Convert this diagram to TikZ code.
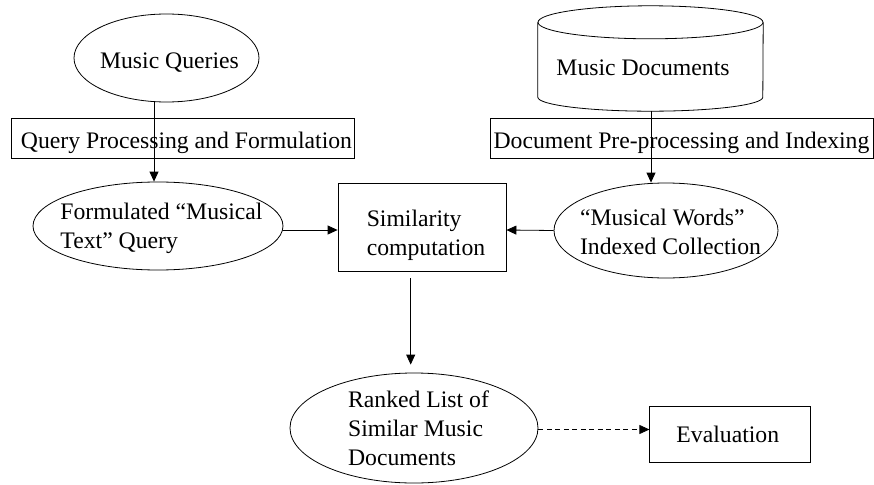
\documentclass[tikz,border=0pt]{standalone}
\usepackage{fontspec}
\setmainfont{Liberation Serif}
\usetikzlibrary{shapes.geometric,arrows.meta}
\newcommand\bigfnt{\fontsize{23.7pt}{29pt}\selectfont}
\begin{document}
\begin{tikzpicture}[x=1pt,y=-1pt,
  line/.style={line width=0.8pt},
  shapebase/.style={draw, line, inner sep=0pt},
  ell/.style={shapebase, ellipse},
  box/.style={shapebase, rectangle},
  txt/.style={font=\bigfnt, inner sep=0pt, align=left},
  arr/.style={line, -{Triangle[length=10pt,width=9pt]}},
  dasharr/.style={arr, dash pattern=on 5pt off 3.5pt}]
\useasboundingbox (0,0) rectangle (874,484);

% query side
\node[ell, minimum width=185pt, minimum height=88pt,
  label={[txt, xshift=3pt, yshift=-5pt]center:Music Queries}] (mq) at (166.5,58) {};
\node[box, minimum width=343pt, minimum height=40pt,
  label={[txt, xshift=4pt, yshift=-5pt]center:Query Processing and Formulation}] (qp) at (182.5,138) {};
\node[ell, minimum width=250pt, minimum height=88pt,
  label={[txt, xshift=3.5pt, yshift=-2.5pt]center:Formulated “Musical\\Text” Query}] (fq) at (158,226) {};

% collection side: cylinder outline built on an invisible frame node
\node[minimum width=225pt, minimum height=105pt, inner sep=0pt] (docs) at (650.5,58.5) {};
\draw[line] ([yshift=-16.5pt]docs.north) ellipse [x radius=112.5pt, y radius=16.5pt];
\draw[line] ([yshift=-16.5pt]docs.north west) -- ([yshift=14pt]docs.south west)
  arc[start angle=180, end angle=360, x radius=112.5pt, y radius=14pt]
  -- ([yshift=-16.5pt]docs.north east);
\node[txt] (doct) at (643,68) {Music Documents};
\node[box, minimum width=383pt, minimum height=40pt,
  label={[txt, yshift=-5pt]center:Document Pre-processing and Indexing}] (dp) at (681.5,138) {};
\node[ell, minimum width=224pt, minimum height=95pt,
  label={[txt, xshift=4.5pt, yshift=-1.5pt]center:“Musical Words”\\Indexed Collection}] (ic) at (666,230.5) {};

% matching and results
\node[box, minimum width=168pt, minimum height=88pt,
  label={[txt, xshift=4pt, yshift=-8.5pt]center:Similarity\\computation}] (sim) at (422,227) {};
\node[ell, minimum width=248pt, minimum height=110pt,
  label={[txt, xshift=4.5pt]center:Ranked List of\\Similar Music\\Documents}] (rl) at (414,428) {};
\node[box, minimum width=161pt, minimum height=56pt,
  label={[txt, xshift=-2.5pt]center:Evaluation}] (ev) at (730.3,434.3) {};

% connectors
\draw[arr] ([xshift=-12.5pt]mq.south) -- ([xshift=-4pt]fq.north);
\draw[arr] ([xshift=0.5pt]docs.south) -- ([xshift=-15pt]ic.north);
\draw[arr] ([yshift=-4pt]fq.east) -- ([yshift=-3pt]sim.west);
\draw[arr] (ic.west) -- ([yshift=-3pt]sim.east);
\draw[arr, shorten <=7pt, shorten >=8pt] ([xshift=-11.3pt]sim.south) -- ([xshift=-3.3pt]rl.north);
\draw[dasharr] ([yshift=-1.5pt]rl.east) -- ([yshift=-1.5pt]rl.east -| ev.west);
\end{tikzpicture}
\end{document}
